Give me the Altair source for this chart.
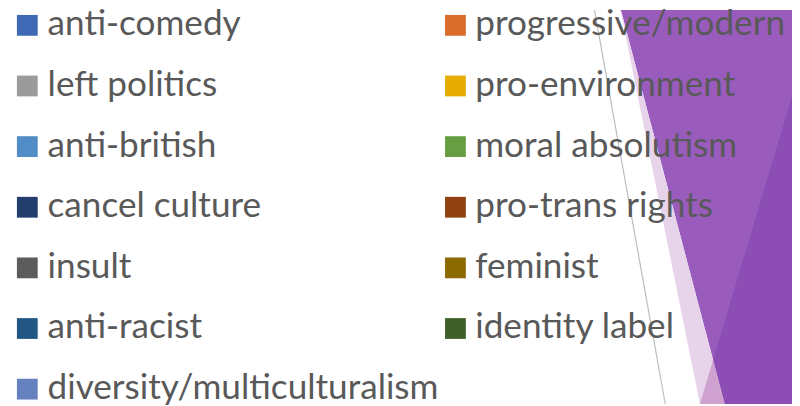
import altair as alt
import pandas as pd

# ---- legend content ----
left_labels = ["anti-comedy", "left politics", "anti-british", "cancel culture",
               "insult", "anti-racist", "diversity/multiculturalism"]
left_colors = ["#3F69B4", "#9B9B9B", "#518CC6", "#233D6C", "#5C5C5C", "#225785", "#6582BF"]
right_labels = ["progressive/modern", "pro-environment", "moral absolutism",
                "pro-trans rights", "feminist", "identity label"]
right_colors = ["#D96C2B", "#E6AD00", "#689E43", "#8F4112", "#8B6A00", "#3E5F29"]

# ---- decorative background shapes (page pixel coordinates) ----
medium_y = [0, 406]
medium_xl = [625, 732]
medium_xr = [800, 800]

pink_y = [0, 406]
pink_xl = [625, 707]
pink_xr = [625, 732]

dark_y = [95, 361.6, 406]
dark_xl = [800, 720.3, 732]
dark_xr = [800, 800, 800]

blend_y = [361.6, 406]
blend_xl = [720.3, 707]
blend_xr = [720.3, 732]

line_x = [599, 672]
line_y = [0, 406]

rows = []
for i, (l, c) in enumerate(zip(left_labels, left_colors)):
    rows.append({"label": l, "color": c, "col": 0, "row": i})
for i, (l, c) in enumerate(zip(right_labels, right_colors)):
    rows.append({"label": l, "color": c, "col": 1, "row": i})
legend_df = pd.DataFrame(rows)

XS = alt.Scale(domain=[8, 800], range=[0, 792], zero=False, nice=False)
YS = alt.Scale(domain=[8, 406], range=[0, 398], zero=False, nice=False)


def shape(ys, xl, xr, color):
    df = pd.DataFrame({"y": ys, "xl": xl, "xr": xr})
    return alt.Chart(df).mark_area(orient="horizontal", color=color, clip=True).encode(
        y=alt.Y("y:Q", scale=YS, axis=None),
        x=alt.X("xl:Q", scale=XS, axis=None),
        x2="xr:Q",
    )


medium = shape(medium_y, medium_xl, medium_xr, "#995CBD")
pink = shape(pink_y, pink_xl, pink_xr, "#E8D4EA")
dark = shape(dark_y, dark_xl, dark_xr, "#8C4EB5")
blend = shape(blend_y, blend_xl, blend_xr, "#CFA1D0")

gline = alt.Chart(pd.DataFrame({"x": [line_x[0]], "y": [line_y[0]],
                                "x2": [line_x[1]], "y2": [line_y[1]]})).mark_rule(
    color="#BDBDBD", strokeWidth=1.2, clip=True).encode(
    x=alt.X("x:Q", scale=XS, axis=None), x2="x2:Q",
    y=alt.Y("y:Q", scale=YS, axis=None), y2="y2:Q")

base = alt.Chart(legend_df).transform_calculate(
    sx="27.5 + datum.col * 432.5",
    sy="23.5 + datum.row * 61.25",
    tx="48 + datum.col * 432",
    ty="33.5 + datum.row * 61.25",
)

squares = base.mark_square(size=441, opacity=1).encode(
    x=alt.X("sx:Q", scale=XS, axis=None),
    y=alt.Y("sy:Q", scale=YS, axis=None),
    color=alt.Color("color:N", scale=None),
)

texts = base.mark_text(align="left", baseline="alphabetic", font="Lato",
                       fontSize=35.5, color="#595959").encode(
    x=alt.X("tx:Q", scale=XS, axis=None),
    y=alt.Y("ty:Q", scale=YS, axis=None),
    text="label:N",
)

chart = alt.layer(medium, pink, dark, blend, gline, squares, texts).properties(
    width=792, height=398, padding=0, autosize=alt.AutoSizeParams(type="none"),
    background="white",
).configure_view(stroke=None)

chart.save("out.html", embed_options={"renderer": "svg", "actions": False})
